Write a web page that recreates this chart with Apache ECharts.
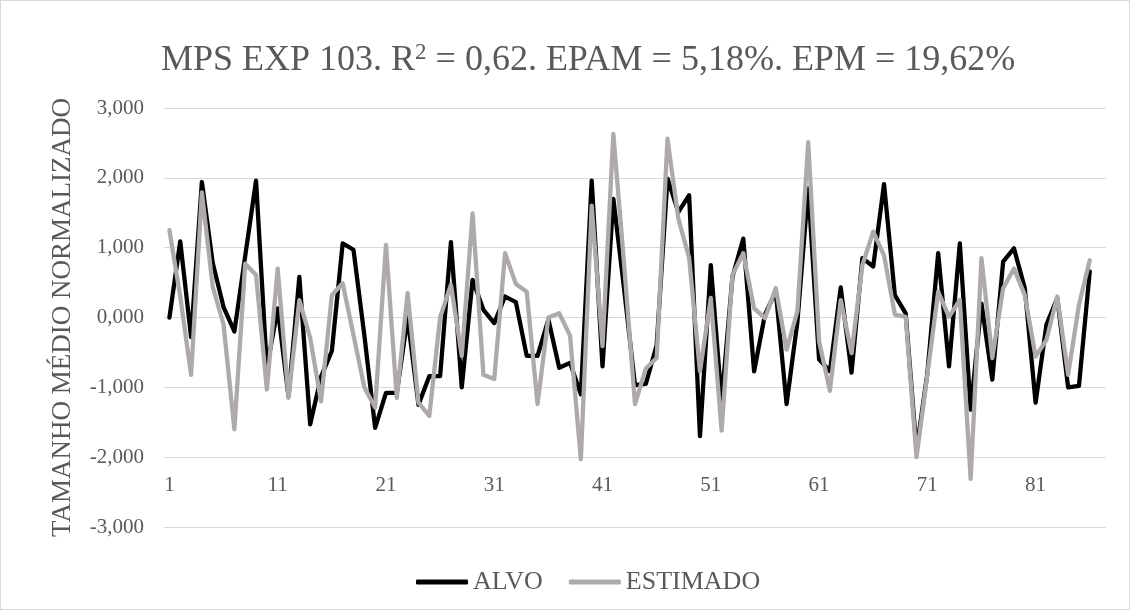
<!DOCTYPE html>
<html>
<head>
<meta charset="UTF-8">
<script src="https://cdn.jsdelivr.net/npm/echarts@6/dist/echarts.min.js"></script>
<style>
  html, body { margin: 0; padding: 0; background: #fff; }
  #main { width: 1130px; height: 610px; box-sizing: border-box; border: 1px solid #d9d9d9; }
</style>
</head>
<body>
<div id="main"></div>
<script>
// pontos 1..87 (o ultimo fica vazio)
var pontos = [];
for (var i = 1; i <= 87; i++) pontos.push(String(i));

var alvo = [
  0.00, 1.09, -0.28, 1.94, 0.78, 0.15, -0.20, 0.88, 1.96, -0.72,
  0.13, -1.13, 0.58, -1.53, -0.85, -0.48, 1.06, 0.97, -0.25, -1.58,
  -1.08, -1.08, 0.00, -1.25, -0.84, -0.84, 1.08, -1.00, 0.54, 0.11,
  -0.08, 0.30, 0.22, -0.55, -0.55, -0.03, -0.72, -0.65, -1.10, 1.96,
  -0.70, 1.70, 0.40, -0.97, -0.95, -0.40, 1.99, 1.51, 1.75, -1.70,
  0.75, -1.20, 0.58, 1.13, -0.77, 0.04, 0.37, -1.24, -0.06, 1.85,
  -0.60, -0.77, 0.43, -0.79, 0.85, 0.73, 1.91, 0.32, 0.06, -1.90,
  -0.80, 0.92, -0.70, 1.06, -1.32, 0.20, -0.89, 0.80, 0.99, 0.42,
  -1.22, -0.10, 0.28, -1.00, -0.98, 0.66, null
];

var estimado = [
  1.25, 0.30, -0.82, 1.79, 0.44, -0.10, -1.60, 0.77, 0.61, -1.03,
  0.70, -1.15, 0.25, -0.29, -1.20, 0.32, 0.49, -0.25, -1.00, -1.29,
  1.04, -1.15, 0.35, -1.22, -1.41, 0.00, 0.47, -0.55, 1.49, -0.82,
  -0.88, 0.92, 0.48, 0.37, -1.24, 0.00, 0.06, -0.26, -2.03, 1.60,
  -0.41, 2.63, 0.75, -1.24, -0.73, -0.58, 2.56, 1.42, 0.85, -0.77,
  0.28, -1.62, 0.61, 0.92, 0.13, -0.01, 0.42, -0.46, 0.09, 2.51,
  -0.34, -1.05, 0.25, -0.51, 0.75, 1.23, 0.89, 0.04, 0.01, -2.00,
  -0.82, 0.37, 0.01, 0.25, -2.31, 0.85, -0.58, 0.42, 0.70, 0.32,
  -0.56, -0.32, 0.30, -0.82, 0.18, 0.82, null
];

var serif = '"Liberation Serif", "DejaVu Serif", serif';
var cinza = '#595959';

var myChart = echarts.init(document.getElementById('main'));

var option = {
    animation: false,
    title: {
        text: '{a|MPS EXP 103. R}{s|2}{a| = 0,62. EPAM = 5,18%. EPM = 19,62%}',
        left: 160,
        top: 40,
        padding: 0,
        textStyle: {
            rich: {
                a: { fontFamily: serif, fontSize: 36, fontWeight: 'normal', color: cinza, lineHeight: 40 },
                s: { fontFamily: serif, fontSize: 23, fontWeight: 'normal', color: cinza, lineHeight: 40, verticalAlign: 'top', padding: [0, 0, 14, 0] }
            }
        }
    },
    legend: {
        left: 410,
        top: 563,
        itemWidth: 52,
        itemHeight: 5,
        itemGap: 26,
        icon: 'roundRect',
        textStyle: { fontFamily: serif, fontSize: 26, color: cinza },
        data: ['ALVO', 'ESTIMADO']
    },
    grid: { left: 163, right: 23, top: 107, bottom: 82 },
    xAxis: {
        type: 'category',
        data: pontos,
        boundaryGap: true,
        offset: -70.3,
        axisLine: { show: false },
        axisTick: { show: false },
        axisLabel: {
            interval: 9,
            margin: 18,
            fontFamily: serif,
            fontSize: 21,
            color: cinza
        }
    },
    yAxis: {
        type: 'value',
        min: -3,
        max: 3,
        interval: 1,
        name: 'TAMANHO MÉDIO NORMALIZADO',
        nameLocation: 'middle',
        nameGap: 88,
        nameTextStyle: { fontFamily: serif, fontSize: 27, color: cinza },
        axisLine: { show: false },
        axisTick: { show: false },
        axisLabel: {
            margin: 20,
            fontFamily: serif,
            fontSize: 21,
            color: cinza,
            formatter: function (v) { return v.toFixed(3).replace('.', ','); }
        },
        splitLine: { lineStyle: { color: '#d9d9d9', width: 1 } }
    },
    series: [
        {
            name: 'ALVO',
            type: 'line',
            data: alvo,
            symbol: 'none',
            color: '#000000',
            lineStyle: { width: 4.3, color: '#000000', join: 'round', cap: 'round' }
        },
        {
            name: 'ESTIMADO',
            type: 'line',
            data: estimado,
            symbol: 'none',
            color: '#aeaaaa',
            lineStyle: { width: 4.3, color: '#aeaaaa', join: 'round', cap: 'round' }
        }
    ]
};

myChart.setOption(option);
</script>
</body>
</html>
